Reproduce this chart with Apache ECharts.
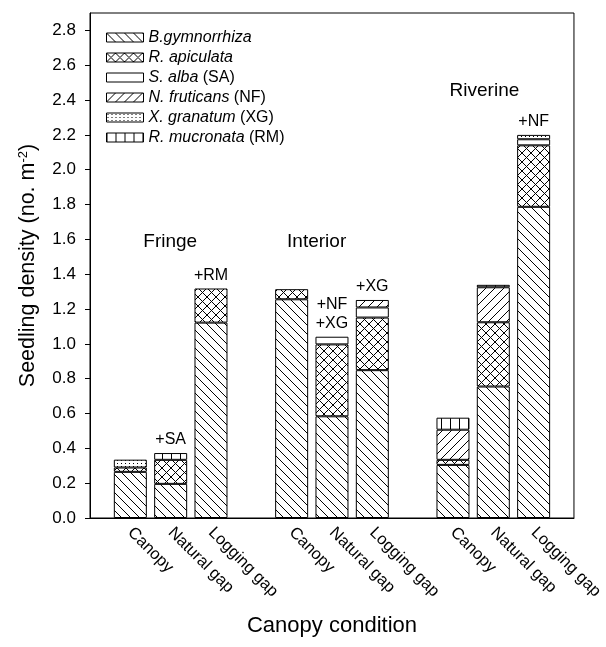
<!DOCTYPE html>
<html><head><meta charset="utf-8">
<script src="https://cdn.jsdelivr.net/npm/echarts@6/dist/echarts.min.js"></script>
<style>html,body{margin:0;padding:0;background:#fff}#c{width:606px;height:647px}</style>
</head><body><div id="c"></div>
<script>
// ---- data ----
const categories = ['', 'Canopy', 'Natural gap', 'Logging gap', '', 'Canopy', 'Natural gap', 'Logging gap', '', 'Canopy', 'Natural gap', 'Logging gap', ''];
const bGymnorrhiza = [0, 0.265, 0.196, 1.122, 0, 1.256, 0.584, 0.849, 0, 0.305, 0.755, 1.787, 0];
const rApiculata   = [0, 0.025, 0.138, 0.196, 0, 0.058, 0.413, 0.302, 0, 0.029, 0.369, 0.353, 0];
const sAlba        = [0, 0, 0, 0, 0, 0, 0.044, 0.058, 0, 0, 0, 0.035, 0];
const nFruticans   = [0, 0, 0, 0, 0, 0, 0, 0.043, 0, 0.173, 0.201, 0, 0];
const xGranatum    = [0, 0.045, 0, 0, 0, 0, 0, 0, 0, 0, 0, 0.025, 0];
const rMucronata   = [0, 0, 0.039, 0, 0, 0, 0, 0, 0, 0.069, 0.014, 0, 0];
const annotations  = ['', '', '+SA', '+RM', '', '', '+NF\n+XG', '+XG', '', '', '', '+NF', ''];
const yTicks = [0, 0.2, 0.4, 0.6, 0.8, 1.0, 1.2, 1.4, 1.6, 1.8, 2.0, 2.2, 2.4, 2.6, 2.8];
const groupNames = ['Fringe', 'Interior', 'Riverine'];
const groupX = [1.99, 5.62, 9.78];
const groupY = [1.585, 1.585, 2.455];
const speciesItalic = ['B.gymnorrhiza', 'R. apiculata', 'S. alba', 'N. fruticans', 'X. granatum', 'R. mucronata'];
const speciesSuffix = ['', '', ' (SA)', ' (NF)', ' (XG)', ' (RM)'];
const speciesValues = [bGymnorrhiza, rApiculata, sAlba, nFruticans, xGranatum, rMucronata];
const speciesPattern = ['back', 'cross', 'none', 'fwd', 'dots', 'vert'];

// ---- patterns ----
function makePattern(kind) {
  const c = document.createElement('canvas');
  let w = 9, h = 9;
  if (kind === 'dots') { w = 4; h = 3; }
  if (kind === 'vert') { w = 9; h = 2; }
  if (kind === 'none') { w = 2; h = 2; }
  c.width = w; c.height = h;
  const g = c.getContext('2d');
  g.fillStyle = '#fff'; g.fillRect(0, 0, w, h);
  g.strokeStyle = '#000'; g.fillStyle = '#000'; g.lineWidth = 1;
  const back = () => { for (let k = -1; k <= 1; k++) { g.beginPath(); g.moveTo(k * w, 0); g.lineTo(k * w + w, h); g.stroke(); } };
  const fwd = () => { for (let k = -1; k <= 1; k++) { g.beginPath(); g.moveTo(k * w, h); g.lineTo(k * w + w, 0); g.stroke(); } };
  if (kind === 'back') back();
  if (kind === 'fwd') fwd();
  if (kind === 'cross') { back(); fwd(); }
  if (kind === 'dots') g.fillRect(1, 1, 1, 1);
  if (kind === 'vert') g.fillRect(0, 0, 1, h);
  return { image: c, repeat: 'repeat' };
}

const FONT = 'Liberation Sans, Arial, sans-serif';
const totals = categories.map((_, i) => speciesValues.reduce((s, arr) => s + arr[i], 0));
const seriesNames = speciesItalic.map((n, i) => n + speciesSuffix[i]);

const barSeries = speciesValues.map((arr, i) => ({
  name: seriesNames[i],
  type: 'bar',
  stack: 'total',
  barWidth: 33,
  data: arr.map(v => (v ? v : null)),
  itemStyle: { color: makePattern(speciesPattern[i]), borderColor: '#000', borderWidth: 1 },
  emphasis: { disabled: true },
  silent: true
}));

const annSeries = {
  type: 'scatter',
  xAxisIndex: 0,
  symbolSize: 1,
  silent: true,
  itemStyle: { opacity: 1, color: 'rgba(0,0,0,0)' },
  data: annotations.map((t, i) => t ? { value: [i, totals[i]], text: t } : null).filter(Boolean),
  label: {
    show: true, position: 'top', distance: 3,
    formatter: p => p.data.text,
    color: '#000', fontSize: 16, fontFamily: FONT, lineHeight: 19
  }
};

const groupSeries = {
  type: 'scatter',
  xAxisIndex: 1,
  symbolSize: 1,
  silent: true,
  itemStyle: { opacity: 1, color: 'rgba(0,0,0,0)' },
  data: groupNames.map((n, i) => ({ value: [groupX[i], groupY[i]], name: n })),
  label: {
    show: true, position: 'inside',
    formatter: p => p.name,
    color: '#000', fontSize: 19, fontFamily: FONT
  }
};

const chart = echarts.init(document.getElementById('c'), null, { renderer: 'canvas' });
chart.setOption({
  animation: false,
  backgroundColor: '#fff',
  textStyle: { fontFamily: FONT, color: '#000' },
  grid: { left: 90, right: 21, top: 13, bottom: 129, show: true, borderColor: '#000', borderWidth: 1, containLabel: false },
  legend: {
    data: seriesNames,
    orient: 'vertical',
    left: 101, top: 24,
    icon: 'rect',
    itemWidth: 37, itemHeight: 9, itemGap: 3,
    selectedMode: false,
    itemStyle: { borderColor: '#000', borderWidth: 1 },
    formatter: name => {
      const i = seriesNames.indexOf(name);
      return '{i|' + speciesItalic[i] + '}' + speciesSuffix[i];
    },
    textStyle: {
      fontSize: 16, fontFamily: FONT, color: '#000', lineHeight: 17,
      rich: { i: { fontStyle: 'italic', fontSize: 16, fontFamily: FONT, color: '#000', lineHeight: 17 } }
    }
  },
  xAxis: [{
    type: 'category',
    data: categories,
    boundaryGap: false,
    axisLine: { lineStyle: { color: '#000', width: 1 } },
    axisTick: { show: false },
    axisLabel: { interval: 0, rotate: -45, margin: 12, fontSize: 16.5, color: '#000', fontFamily: FONT },
    name: 'Canopy condition',
    nameLocation: 'middle',
    nameGap: 97,
    nameTextStyle: { fontSize: 22, color: '#000', fontFamily: FONT }
  }, {
    type: 'value', min: 0, max: 12, show: false
  }],
  yAxis: {
    type: 'value',
    min: 0, max: 2.9,
    splitLine: { show: false },
    axisLine: { show: true, lineStyle: { color: '#000', width: 1 } },
    axisTick: { show: true, length: 5, customValues: yTicks, lineStyle: { color: '#000', width: 1 } },
    axisLabel: { customValues: yTicks, formatter: v => v.toFixed(1), fontSize: 17, color: '#000', margin: 14, fontFamily: FONT },
    name: 'Seedling density (no. m{sup|-2})',
    nameLocation: 'middle',
    nameGap: 51,
    nameTextStyle: {
      fontSize: 21.5, color: '#000', fontFamily: FONT,
      rich: { sup: { fontSize: 13, verticalAlign: 'top', color: '#000', fontFamily: FONT, padding: [0, 0, 9, 0] } }
    }
  },
  series: [...barSeries, annSeries, groupSeries]
});
</script>
</body></html>
